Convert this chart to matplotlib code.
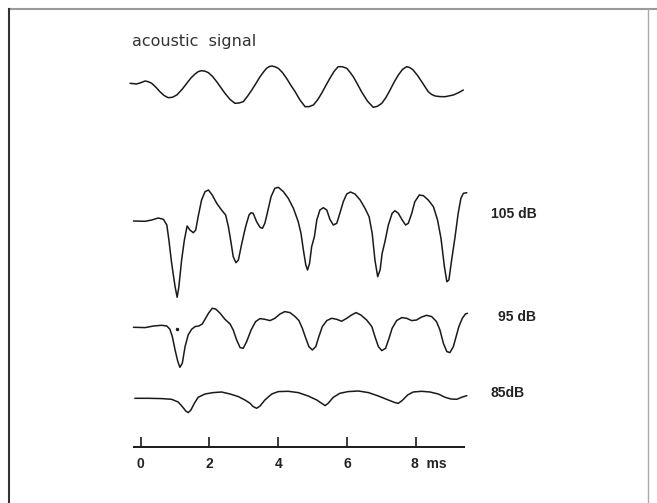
"""
Cochlear microphonic / acoustic signal traces at three levels
"""
import matplotlib.pyplot as plt
from matplotlib.lines import Line2D

plt.rcParams['font.family'] = ['Liberation Sans', 'DejaVu Sans']

# acoustic signal (time in ms, amplitude in arbitrary units)
ac_t = [-0.31, -0.12, 0.02, 0.13, 0.22, 0.32, 0.45, 0.56, 0.68, 0.80, 0.92, 1.05,
        1.20, 1.34, 1.46, 1.58, 1.68, 1.77, 1.87, 1.97, 2.09, 2.21, 2.33, 2.45,
        2.60, 2.74, 2.86, 2.98, 3.10, 3.23, 3.35, 3.47, 3.57, 3.66, 3.73, 3.81,
        3.90, 4.00, 4.12, 4.24, 4.36, 4.49, 4.63, 4.78, 4.90, 5.02, 5.14, 5.26,
        5.38, 5.50, 5.62, 5.74, 5.86, 5.99, 6.08, 6.18, 6.30, 6.42, 6.59, 6.76,
        6.88, 7.01, 7.13, 7.25, 7.37, 7.49, 7.61, 7.73, 7.82, 7.92, 8.05, 8.17,
        8.27, 8.36, 8.46, 8.56, 8.70, 8.85, 9.09, 9.25, 9.38]
ac_a = [3.7, 3.0, 4.5, 6.0, 5.3, 3.7, -0.5, -4.7, -8.5, -10.7, -10.3, -8.0,
        -2.5, 3.7, 9.0, 13.0, 15.5, 16.3, 15.8, 14.3, 10.5, 5.3, -0.5, -6.3,
        -12.5, -16.3, -16.0, -14.7, -9.5, -3.0, 3.5, 10.3, 15.0, 18.7, 20.3, 21.0,
        20.3, 18.7, 14.5, 8.7, 2.0, -4.7, -13.0, -19.7, -19.6, -18.0, -13.0, -6.3,
        1.3, 8.7, 15.5, 20.3, 20.3, 18.7, 15.0, 10.3, 3.0, -4.7, -14.0, -20.3,
        -19.3, -16.3, -10.5, -3.0, 5.0, 12.0, 17.5, 20.3, 19.5, 17.0, 11.5, 5.3,
        0.0, -4.7, -7.5, -9.0, -9.6, -9.7, -8.0, -5.5, -3.0]

# response at 105 dB
r105_t = [-0.21, 0.13, 0.32, 0.51, 0.66, 0.76, 0.82, 0.90, 1.00, 1.06, 1.11, 1.19,
          1.27, 1.35, 1.43, 1.53, 1.60, 1.67, 1.77, 1.87, 1.97, 2.08, 2.21, 2.35,
          2.47, 2.55, 2.63, 2.69, 2.77, 2.84, 2.94, 3.05, 3.15, 3.21, 3.27, 3.37,
          3.47, 3.54, 3.61, 3.69, 3.79, 3.90, 4.00, 4.15, 4.29, 4.44, 4.58, 4.66,
          4.73, 4.80, 4.85, 4.91, 4.97, 5.05, 5.12, 5.21, 5.31, 5.41, 5.50, 5.60,
          5.70, 5.79, 5.89, 5.99, 6.10, 6.23, 6.38, 6.52, 6.64, 6.73, 6.81, 6.89,
          6.96, 7.02, 7.10, 7.20, 7.31, 7.39, 7.49, 7.59, 7.70, 7.78, 7.88, 7.97,
          8.10, 8.22, 8.36, 8.51, 8.63, 8.73, 8.83, 8.90, 8.96, 9.04, 9.14, 9.23,
          9.31, 9.38, 9.48]
r105_a = [0, -0.3, 1.0, 3.0, 1.7, -4, -19, -42.3, -65.7, -76.3, -65.7, -39,
          -19, -5, -9, -11.7, -9, 4.3, 21, 29.3, 31, 26, 17.7, 11,
          6, -5.7, -22.3, -35.7, -41.7, -39, -22.3, -5.7, 6, 8.3, 7.7, -0.7,
          -6.3, -7.3, -2.3, 9.3, 24.3, 32.7, 33.7, 29.3, 22.7, 12.7, -0.7, -12.3,
          -29, -44, -49, -42.3, -25.7, -15.7, 1, 11, 13.3, 11, 1.7, -4,
          -2.3, 7.7, 19.3, 27, 29, 27, 21, 12.7, 4.3, -12.3, -39, -55.7,
          -49, -32.3, -20.7, -4, 7.7, 10.3, 7.7, 1.7, -4, -2.3, 7.7, 19.3,
          26, 25.3, 21, 14.3, 1, -17.3, -45.7, -60.7, -59, -39, -15.7, 7.7,
          22.7, 27.7, 28.3]

# response at 95 dB
r95_t = [-0.21, 0.13, 0.37, 0.61, 0.76, 0.85, 0.92, 1.00, 1.08, 1.14, 1.21, 1.29,
         1.38, 1.48, 1.58, 1.69, 1.79, 1.87, 1.97, 2.08, 2.18, 2.31, 2.45, 2.60,
         2.69, 2.79, 2.89, 2.98, 3.08, 3.21, 3.34, 3.47, 3.61, 3.76, 3.90, 4.05,
         4.19, 4.34, 4.49, 4.60, 4.70, 4.80, 4.89, 4.99, 5.09, 5.18, 5.28, 5.41,
         5.55, 5.70, 5.84, 5.99, 6.13, 6.26, 6.40, 6.57, 6.72, 6.81, 6.91, 7.01,
         7.12, 7.22, 7.31, 7.44, 7.59, 7.73, 7.88, 8.02, 8.15, 8.31, 8.46, 8.60,
         8.70, 8.80, 8.90, 8.99, 9.09, 9.17, 9.25, 9.35, 9.44, 9.50]
r95_a = [0, -0.3, 1.3, 2, 1.3, -2, -9.3, -22.7, -34.3, -40, -36, -19.3,
         -7.7, -2, 0.7, 1.3, 3.3, 8, 14, 19, 18.3, 14, 8, 3.3,
         -2.7, -12.7, -20.3, -21, -14.3, -2.7, 5.7, 8.7, 8, 6.7, 9, 13.3,
         15.7, 14.7, 10.7, 6.7, -1, -11, -19.3, -22.7, -19.3, -9.3, 0.7, 6.7,
         9, 8, 6, 9, 12.3, 14.7, 12.3, 7.3, 0.7, -9.3, -19.3, -23.3,
         -21, -11, -1, 6.7, 9.7, 9, 6.7, 7.3, 10, 12, 10.7, 5.7,
         -2.7, -16, -24.3, -25.3, -19.3, -9.3, 0.7, 9, 13.3, 14]
speck_t, speck_a = 1.05, -1.7

# response at 85 dB
r85_t = [-0.17, 0.22, 0.61, 0.90, 1.09, 1.21, 1.31, 1.38, 1.46, 1.56, 1.67, 1.87,
         2.11, 2.35, 2.60, 2.84, 3.03, 3.18, 3.27, 3.37, 3.47, 3.61, 3.81, 4.00,
         4.29, 4.58, 4.87, 5.12, 5.26, 5.36, 5.45, 5.60, 5.79, 6.03, 6.33, 6.62,
         6.91, 7.20, 7.39, 7.49, 7.60, 7.76, 7.92, 8.17, 8.41, 8.65, 8.85, 9.02,
         9.19, 9.33, 9.48]
r85_a = [0, 0, -0.3, -1, -3.7, -8.3, -12.7, -14.3, -11.7, -5, 1, 4.3,
         5.7, 6.3, 4.3, 1.7, -1.7, -5, -8.3, -10, -7.7, -1.7, 4.3, 6.7,
         7, 5.7, 2.3, -1.7, -5, -7.3, -5, 1, 5, 6.7, 7.3, 5.7,
         2.3, -1.7, -4.3, -5, -2.3, 3.3, 6.3, 7, 6.3, 4.3, 1, -0.7,
         -1, 1, 2.7]

level_labels = ['105 dB', '95 dB', '85dB']
tick_ms = [0, 2, 4, 6, 8]
tick_labels = ['0', '2', '4', '6', '8 ms']

# layout: vertical baselines of each trace (in axis units, 0..503)
base_ac, base_105, base_95, base_85, base_axis = 416, 282, 175.7, 104.7, 56
ink = '#1a1a1a'

fig = plt.figure(figsize=(6.57, 5.03), dpi=100)
ax = fig.add_axes([0, 0, 1, 1])
ax.set_xlim(-4.09, 15.01)
ax.set_ylim(0, 503)
ax.axis('off')

lw = 1.1
style = dict(color=ink, lw=lw, solid_joinstyle='round', solid_capstyle='round')
ax.plot(ac_t, [base_ac + a for a in ac_a], **style)
ax.plot(r105_t, [base_105 + a for a in r105_a], **style)
ax.plot(r95_t, [base_95 + a for a in r95_a], **style)
ax.plot([speck_t], [base_95 + speck_a], 'o', color=ink, ms=1.5)
ax.plot(r85_t, [base_85 + a for a in r85_a], **style)

# text labels
ax.text(-0.26, 462, 'acoustic  signal', fontsize=11.5, family='DejaVu Sans',
        color='#333', va='center', ha='left')
label_y = [base_105 + 7, base_95 + 10, base_85 + 5]
label_x = [10.17, 10.4, 10.17]
for lx, ly, s in zip(label_x, label_y, level_labels):
    ax.text(lx, ly, s, fontsize=10, fontweight='bold', color='#222', va='center', ha='left')

# time scale
ax.plot([-0.22, 9.42], [base_axis, base_axis], color=ink, lw=1.4, solid_capstyle='butt')
ax.vlines(tick_ms, base_axis, base_axis + 10, color=ink, lw=1.2)
for t, s in zip(tick_ms, tick_labels):
    if s.endswith('ms'):
        ax.text(t - 0.13, base_axis - 17, s.replace(' ', '  '), fontsize=10, fontweight='bold',
                color='#222', va='center', ha='left')
    else:
        ax.text(t, base_axis - 17, s, fontsize=10, fontweight='bold',
                color='#222', va='center', ha='center')

# frame around the scanned figure
fig.add_artist(Line2D([9 / 657, 1], [1 - 8.7 / 503] * 2, color='#9a9a9a', lw=1.5))
fig.add_artist(Line2D([9 / 657] * 2, [0, 1 - 8.7 / 503], color='#333333', lw=1.5))
fig.add_artist(Line2D([648 / 657] * 2, [0, 1 - 8.7 / 503], color='#aaaaaa', lw=1.0))

fig.savefig('out.png', dpi=100)
plt.close(fig)
